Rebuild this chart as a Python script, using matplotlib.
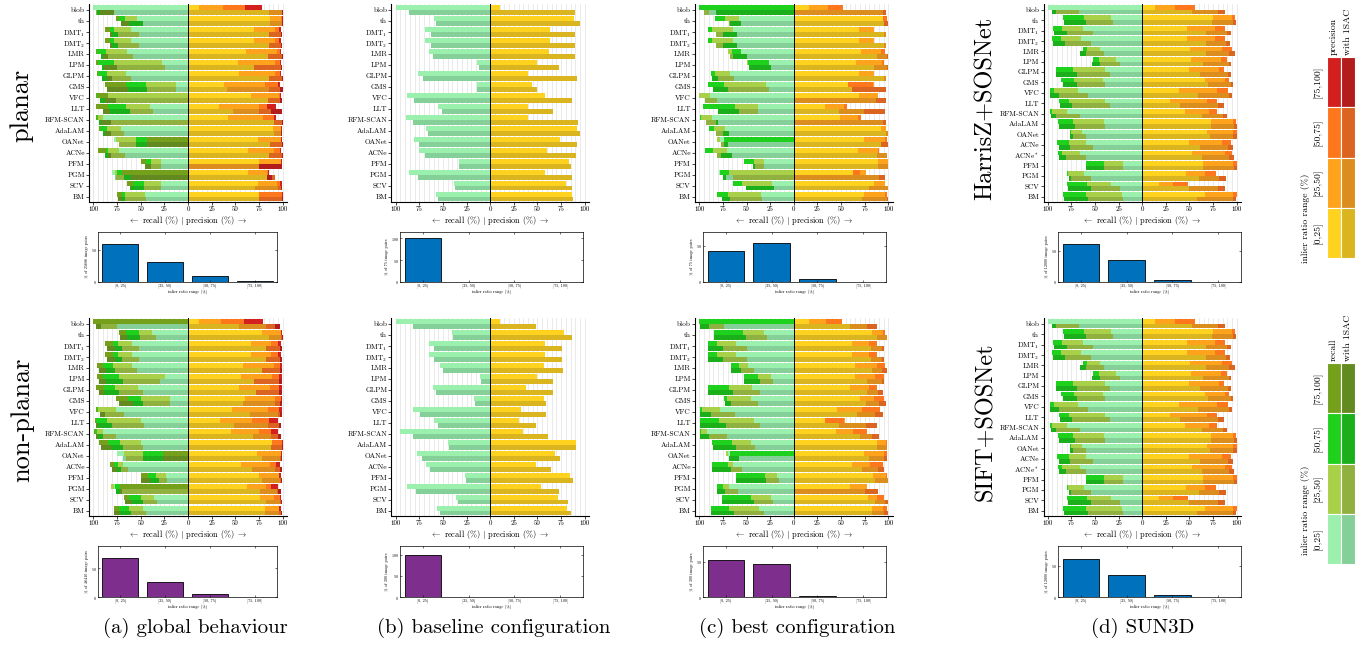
import matplotlib
matplotlib.use('Agg')
import matplotlib.pyplot as plt
import numpy as np
from matplotlib.patches import Rectangle
from matplotlib.ticker import MultipleLocator

plt.rcParams['font.family'] = ['cmr10', 'DejaVu Serif']
plt.rcParams['mathtext.fontset'] = 'cm'
plt.rcParams['axes.formatter.use_mathtext'] = True

# ---------------- data ----------------
methods = ['blob', 'th', 'DMT$_1$', 'DMT$_2$', 'LMR', 'LPM', 'GLPM', 'GMS', 'VFC', 'LLT',
           'RFM-SCAN', 'AdaLAM', 'OANet', 'ACNe', 'PFM', 'PGM', 'SCV', 'BM']
methods_sun = methods[:14] + ['ACNe$^*$'] + methods[14:]
ranges = ['[0,25]', '[25,50]', '[50,75]', '[75,100]']
hist_ranges = ['[0, 25)', '[25, 50)', '[50, 75)', '[75, 100]']

# (a) global behaviour, planar -- one [0,25],[25,50],[50,75],[75,100] entry per method
a_pl_rec_plain = [[100, 0, 0, 0], [54, 66, 73, 76], [60, 78, 82, 88], [60, 78, 82, 88],
                  [64, 87, 96, 97], [27, 78, 95, 97], [65, 86, 95, 96], [13, 44, 65, 88],
                  [84, 84, 97, 96], [40, 65, 84, 97], [90, 95, 96, 97], [71, 85, 93, 94],
                  [78, 76, 55, 43], [73, 84, 87, 95], [29, 39, 44, 50], [80, 77, 75, 70],
                  [29, 46, 58, 64], [45, 67, 70, 75]]
a_pl_rec_1sac = [[78, 97, 96, 93], [48, 62, 62, 71], [52, 74, 80, 82], [52, 74, 80, 82],
                 [58, 84, 92, 90], [24, 75, 91, 89], [60, 80, 91, 86], [13, 43, 63, 85],
                 [76, 76, 93, 88], [37, 61, 82, 90], [81, 81, 94, 92], [68, 81, 90, 88],
                 [73, 73, 55, 43], [66, 81, 88, 84], [28, 39, 45, 45], [77, 76, 68, 60],
                 [28, 46, 60, 61], [44, 66, 70, 74]]
a_pl_prec_plain = [[12, 37, 60, 78], [87, 98, 99, 100], [70, 92, 96, 98], [70, 92, 96, 98],
                   [61, 94, 97, 98], [53, 92, 97, 98], [54, 92, 97, 98], [38, 81, 95, 97],
                   [67, 96, 97, 98], [33, 75, 83, 93], [42, 79, 91, 93], [90, 98, 99, 99],
                   [74, 98, 99, 99], [63, 91, 97, 98], [75, 98, 99, 99], [63, 83, 84, 86],
                   [74, 94, 97, 99], [75, 99, 99, 100]]
a_pl_prec_1sac = [[85, 99, 100, 100], [87, 99, 100, 100], [85, 98, 98, 99], [85, 98, 98, 99],
                  [84, 99, 99, 100], [70, 98, 98, 99], [86, 99, 99, 100], [41, 85, 97, 100],
                  [84, 97, 97, 99], [47, 75, 88, 99], [91, 99, 99, 100], [91, 98, 99, 99],
                  [87, 99, 99, 100], [86, 99, 99, 100], [75, 75, 99, 99], [83, 92, 92, 89],
                  [71, 95, 98, 99], [75, 99, 99, 100]]

# (a) global behaviour, non-planar
a_np_rec_plain = [[0, 0, 0, 100], [38, 52, 65, 73], [59, 74, 79, 88], [59, 74, 79, 88],
                  [59, 79, 90, 96], [24, 73, 90, 96], [53, 77, 89, 97], [19, 50, 63, 76],
                  [76, 95, 97, 96], [50, 85, 97, 98], [90, 96, 98, 99], [50, 72, 84, 94],
                  [75, 68, 47, 26], [69, 74, 78, 82], [23, 34, 42, 50], [78, 81, 77, 72],
                  [36, 50, 62, 68], [47, 62, 73, 78]]
a_np_rec_1sac = [[75, 92, 97, 97], [34, 51, 64, 72], [52, 70, 77, 86], [52, 70, 77, 86],
                 [54, 77, 87, 94], [30, 69, 87, 94], [48, 73, 89, 94], [19, 47, 58, 73],
                 [68, 88, 93, 93], [46, 80, 95, 97], [76, 90, 95, 97], [48, 69, 81, 92],
                 [69, 65, 47, 26], [63, 71, 75, 80], [22, 31, 40, 50], [70, 70, 76, 72],
                 [33, 48, 59, 66], [44, 60, 72, 78]]
a_np_prec_plain = [[12, 35, 59, 79], [78, 98, 99, 99], [66, 88, 95, 98], [66, 88, 95, 98],
                   [58, 91, 97, 99], [56, 89, 96, 99], [54, 87, 96, 99], [60, 92, 98, 99],
                   [46, 84, 96, 99], [34, 68, 86, 95], [45, 75, 88, 95], [89, 99, 99, 100],
                   [73, 98, 99, 99], [56, 87, 93, 97], [75, 96, 98, 98], [62, 82, 88, 95],
                   [76, 91, 97, 98], [81, 96, 98, 98]]
a_np_prec_1sac = [[54, 82, 92, 97], [85, 98, 99, 100], [82, 97, 97, 99], [82, 97, 97, 99],
                  [78, 97, 97, 99], [70, 96, 96, 99], [72, 96, 96, 99], [58, 92, 97, 99],
                  [65, 95, 97, 99], [49, 84, 96, 98], [69, 88, 95, 98], [88, 99, 99, 100],
                  [78, 97, 98, 99], [68, 92, 97, 99], [78, 97, 98, 99], [76, 94, 95, 98],
                  [82, 97, 98, 99], [81, 96, 98, 99]]

# (b) baseline configuration: only the [0,25] range
b_pl_rec_plain = [100, 60, 69, 69, 65, 14, 76, 14, 88, 55, 89, 68, 81, 75, 33, 86, 38, 57]
b_pl_rec_1sac = [86, 57, 63, 63, 61, 12, 71, 14, 81, 51, 82, 66, 75, 69, 33, 76, 37, 55]
b_pl_prec_plain = [10, 89, 63, 63, 62, 50, 40, 44, 58, 40, 40, 92, 74, 60, 83, 58, 80, 86]
b_pl_prec_1sac = [90, 95, 90, 90, 90, 73, 92, 50, 87, 66, 93, 95, 92, 91, 85, 86, 87, 88]
b_np_rec_plain = [100, 41, 65, 65, 53, 11, 61, 17, 82, 60, 95, 45, 78, 68, 27, 88, 36, 56]
b_np_rec_1sac = [82, 39, 59, 59, 50, 10, 57, 16, 74, 55, 82, 44, 72, 64, 26, 79, 34, 53]
b_np_prec_plain = [10, 78, 58, 58, 57, 50, 38, 57, 33, 30, 35, 91, 69, 48, 84, 54, 72, 81]
b_np_prec_1sac = [48, 86, 76, 76, 77, 66, 66, 59, 59, 48, 61, 91, 74, 64, 88, 73, 82, 85]

# (c) best configuration, planar
c_pl_rec_plain = [[0, 0, 100, 0], [58, 73, 83, 0], [64, 86, 91, 0], [64, 86, 91, 0],
                  [56, 70, 65, 0], [26, 49, 48, 0], [67, 83, 88, 0], [29, 74, 91, 0],
                  [89, 100, 0, 0], [38, 62, 96, 0], [87, 98, 99, 0], [73, 84, 90, 0],
                  [78, 81, 74, 0], [71, 85, 94, 0], [32, 42, 53, 0], [79, 69, 78, 0],
                  [23, 55, 64, 0], [35, 70, 81, 0]]
c_pl_rec_1sac = [[90, 95, 82, 0], [56, 68, 67, 0], [60, 82, 75, 0], [60, 82, 75, 0],
                 [49, 67, 64, 0], [24, 47, 47, 0], [63, 80, 87, 0], [26, 70, 85, 0],
                 [81, 94, 0, 0], [38, 58, 80, 0], [80, 93, 82, 0], [69, 82, 75, 0],
                 [70, 77, 74, 0], [65, 81, 77, 0], [32, 41, 43, 0], [72, 64, 75, 0],
                 [21, 51, 51, 0], [34, 67, 76, 0]]
c_pl_prec_plain = [[16, 36, 52, 0], [94, 99, 99, 0], [69, 85, 0, 0], [69, 85, 0, 0],
                   [71, 92, 97, 0], [66, 93, 95, 0], [69, 85, 0, 0], [57, 85, 84, 0],
                   [69, 89, 0, 0], [33, 53, 56, 0], [49, 68, 71, 0], [92, 98, 0, 0],
                   [74, 97, 99, 0], [68, 89, 90, 0], [89, 100, 0, 0], [63, 76, 70, 0],
                   [85, 97, 0, 0], [74, 97, 99, 0]]
c_pl_prec_1sac = [[94, 94, 98, 0], [96, 100, 100, 0], [95, 98, 0, 0], [95, 98, 0, 0],
                  [88, 99, 100, 0], [85, 99, 100, 0], [95, 98, 0, 0], [62, 98, 98, 0],
                  [87, 87, 98, 0], [48, 74, 97, 0], [94, 94, 98, 0], [98, 100, 0, 0],
                  [92, 100, 100, 0], [88, 99, 0, 0], [89, 100, 0, 0], [90, 90, 97, 0],
                  [80, 100, 0, 0], [72, 99, 100, 0]]

# (c) best configuration, non-planar
c_np_rec_plain = [[0, 0, 100, 0], [32, 54, 84, 0], [61, 81, 91, 0], [61, 81, 91, 0],
                  [48, 58, 66, 0], [24, 38, 53, 0], [44, 69, 91, 0], [45, 71, 74, 0],
                  [78, 97, 99, 0], [42, 79, 99, 0], [92, 98, 99, 0], [45, 65, 86, 0],
                  [70, 72, 67, 0], [64, 70, 86, 0], [18, 30, 61, 0], [68, 75, 81, 0],
                  [24, 45, 76, 0], [37, 69, 88, 0]]
c_np_rec_1sac = [[74, 90, 99, 0], [28, 51, 84, 0], [49, 75, 91, 0], [49, 75, 91, 0],
                 [42, 56, 66, 0], [22, 36, 53, 0], [36, 64, 91, 0], [38, 66, 73, 0],
                 [62, 88, 99, 0], [36, 72, 99, 0], [71, 90, 99, 0], [41, 61, 85, 0],
                 [58, 69, 68, 0], [55, 66, 86, 0], [16, 29, 61, 0], [59, 73, 81, 0],
                 [22, 42, 76, 0], [32, 63, 88, 0]]
c_np_prec_plain = [[16, 34, 51, 0], [83, 94, 97, 0], [62, 80, 88, 0], [62, 80, 88, 0],
                   [65, 88, 97, 0], [65, 86, 95, 0], [60, 80, 88, 0], [70, 85, 96, 0],
                   [46, 72, 91, 0], [33, 54, 53, 0], [45, 63, 78, 0], [88, 98, 99, 0],
                   [74, 95, 99, 0], [62, 81, 94, 0], [84, 98, 99, 0], [60, 77, 78, 0],
                   [79, 88, 96, 0], [83, 94, 99, 0]]
c_np_prec_1sac = [[59, 78, 88, 0], [88, 99, 0, 0], [82, 93, 95, 0], [82, 93, 95, 0],
                  [83, 93, 99, 0], [78, 93, 96, 0], [77, 89, 94, 0], [76, 90, 98, 0],
                  [67, 86, 94, 0], [48, 76, 88, 0], [70, 83, 90, 0], [88, 99, 0, 0],
                  [80, 96, 99, 0], [72, 89, 95, 0], [86, 100, 0, 0], [75, 75, 89, 0],
                  [86, 97, 100, 0], [83, 96, 100, 0]]

# (d) SUN3D (both rows read the same at this resolution)
d_rec_plain = [[100, 0, 0, 0], [33, 62, 84, 0], [63, 85, 94, 0], [65, 86, 95, 0],
               [45, 58, 63, 0], [28, 46, 52, 0], [39, 73, 91, 0], [42, 72, 86, 0],
               [68, 93, 98, 0], [39, 78, 88, 0], [80, 95, 98, 0], [40, 73, 89, 0],
               [64, 75, 76, 0], [59, 78, 90, 0], [66, 85, 89, 0], [20, 41, 60, 0],
               [62, 79, 80, 0], [33, 58, 80, 0], [21, 60, 84, 0]]
d_rec_1sac = [[67, 91, 96, 0], [31, 60, 83, 0], [52, 80, 93, 0], [54, 82, 94, 0],
              [40, 60, 66, 0], [24, 45, 53, 0], [34, 69, 91, 0], [39, 69, 84, 0],
              [57, 88, 98, 0], [34, 74, 87, 0], [66, 91, 97, 0], [39, 71, 88, 0],
              [59, 73, 76, 0], [52, 76, 88, 0], [59, 81, 88, 0], [20, 40, 60, 0],
              [54, 75, 78, 0], [24, 54, 79, 0], [20, 57, 83, 0]]
d_prec_plain = [[14, 35, 56, 0], [75, 95, 98, 0], [47, 77, 88, 0], [47, 77, 88, 0],
                [51, 84, 95, 0], [52, 83, 90, 0], [49, 81, 87, 0], [66, 88, 92, 0],
                [39, 79, 91, 0], [29, 69, 79, 0], [45, 71, 79, 0], [73, 96, 99, 0],
                [69, 96, 100, 0], [50, 84, 94, 0], [53, 88, 95, 0], [64, 96, 100, 0],
                [46, 66, 78, 0], [18, 33, 48, 0], [66, 96, 100, 0]]
d_prec_1sac = [[53, 80, 88, 0], [74, 96, 99, 0], [67, 90, 94, 0], [67, 89, 93, 0],
               [67, 92, 98, 0], [64, 92, 94, 0], [61, 91, 94, 0], [70, 94, 96, 0],
               [59, 92, 95, 0], [40, 80, 87, 0], [63, 85, 90, 0], [73, 97, 100, 0],
               [72, 96, 100, 0], [61, 91, 96, 0], [63, 92, 97, 0], [64, 97, 100, 0],
               [60, 81, 89, 0], [49, 80, 88, 0], [58, 96, 99, 0]]

# histograms: % of image pairs per inlier ratio range
hist_a_pl = [58.5, 31.5, 8.5, 1.0]
hist_b_pl = [100, 0, 0, 0]
hist_c_pl = [43, 53.5, 3.5, 0]
hist_d_pl = [60.5, 35, 4, 0.5]
hist_a_np = [68.5, 26, 5, 0.5]
hist_b_np = [100, 0, 0, 0]
hist_c_np = [52, 46, 2, 0]
hist_d_np = [61, 35.5, 3.2, 0.3]

REC_PLAIN = ['#9cf0ae', '#a8d048', '#1dd11d', '#75a01c']
REC_1SAC = ['#85d098', '#90b040', '#1bb01b', '#638a20']
PREC_PLAIN = ['#ffd21f', '#ffa31c', '#ff771c', '#d41f1f']
PREC_1SAC = ['#dbb520', '#db8d1e', '#db6420', '#b31c1c']
BLUE, PURPLE = '#0072bd', '#7e2f8e'

W, H = 1368, 645
fig = plt.figure(figsize=(W / 100, H / 100), dpi=100)

ov = fig.add_axes([0, 0, 1, 1])
ov.set_xlim(0, W); ov.set_ylim(H, 0)
ov.axis('off')
ov.patch.set_alpha(0)


def px(x0, y0, x1, y1):
    return [x0 / W, 1 - y1 / H, (x1 - x0) / W, (y1 - y0) / H]


def bar_panel(rect, names, rp, rs, pp, ps):
    ax = fig.add_axes(rect)
    n = len(names)
    y = np.arange(n)
    for vals, sign, cols, off in [(rp, -1, REC_PLAIN, -0.225), (rs, -1, REC_1SAC, 0.225),
                                  (pp, 1, PREC_PLAIN, -0.225), (ps, 1, PREC_1SAC, 0.225)]:
        v = np.asarray(vals, float).reshape(n, -1)
        order = np.argsort(-v, axis=1, kind='stable')   # longest behind, shortest on top
        for j in range(v.shape[1]):
            k = order[:, j]
            w = v[y, k]
            keep = w > 0
            ax.barh(y[keep] + off, sign * w[keep], height=0.45,
                    color=[cols[c] for c in k[keep]], lw=0, zorder=2)
    ax.axvline(0, color='k', lw=0.7, zorder=3)
    ax.set_xlim(-104.5, 104.5)
    ax.set_ylim(n - 0.5, -0.55)
    ax.set_yticks(y)
    ax.set_yticklabels(names, fontsize=5.3)
    ticks = np.arange(-100, 101, 25)
    ax.set_xticks(ticks)
    ax.set_xticklabels([str(abs(t)) for t in ticks], fontsize=5)
    ax.set_xticks(np.arange(-100, 101, 5), minor=True)
    ax.grid(axis='x', which='both', color='#e2e2e2', lw=0.5)
    ax.set_axisbelow(True)
    ax.tick_params(which='minor', length=0)
    ax.tick_params(axis='both', length=2, width=0.5, pad=1)
    for s in ['top', 'right']:
        ax.spines[s].set_visible(False)
    for s in ['left', 'bottom']:
        ax.spines[s].set_linewidth(0.8)
    ax.set_xlabel(r'$\leftarrow$ recall (%) $|$ precision (%) $\rightarrow$', fontsize=6, labelpad=1.5)
    return ax


def hist_panel(rect, vals, color, ytop, ylabel):
    ax = fig.add_axes(rect)
    ax.bar(np.arange(4), vals, width=0.8, color=color, edgecolor='k', lw=0.6)
    ax.set_xlim(-0.5, 3.5)
    ax.set_ylim(0, ytop)
    ax.set_xticks(range(4))
    ax.set_xticklabels(hist_ranges, fontsize=3)
    ax.yaxis.set_major_locator(MultipleLocator(50))
    ax.tick_params(direction='in', top=True, right=True, length=1.5, width=0.4, labelsize=3, pad=1)
    ax.set_xlabel('inlier ratio range (%)', fontsize=3, labelpad=1)
    ax.set_ylabel(ylabel, fontsize=3, labelpad=1)
    for s in ax.spines.values():
        s.set_linewidth(0.5)
    return ax


bar_x = [(89, 287), (391.5, 589), (695, 892.5), (1043.5, 1241)]
hist_x = [(98, 277), (400, 583), (703, 886), (1058, 1241)]
bar_y = [(4, 202), (318, 516)]
hist_y = [(232, 282), (546, 597)]

bar_data = [
    [(methods, a_pl_rec_plain, a_pl_rec_1sac, a_pl_prec_plain, a_pl_prec_1sac),
     (methods, b_pl_rec_plain, b_pl_rec_1sac, b_pl_prec_plain, b_pl_prec_1sac),
     (methods, c_pl_rec_plain, c_pl_rec_1sac, c_pl_prec_plain, c_pl_prec_1sac),
     (methods_sun, d_rec_plain, d_rec_1sac, d_prec_plain, d_prec_1sac)],
    [(methods, a_np_rec_plain, a_np_rec_1sac, a_np_prec_plain, a_np_prec_1sac),
     (methods, b_np_rec_plain, b_np_rec_1sac, b_np_prec_plain, b_np_prec_1sac),
     (methods, c_np_rec_plain, c_np_rec_1sac, c_np_prec_plain, c_np_prec_1sac),
     (methods_sun, d_rec_plain, d_rec_1sac, d_prec_plain, d_prec_1sac)],
]
hist_data = [
    [(hist_a_pl, BLUE, 77, '% of 25686 image pairs'), (hist_b_pl, BLUE, 114, '% of 75 image pairs'),
     (hist_c_pl, BLUE, 69, '% of 75 image pairs'), (hist_d_pl, BLUE, 80, '% of 12000 image pairs')],
    [(hist_a_np, PURPLE, 89, '% of 46410 image pairs'), (hist_b_np, PURPLE, 120, '% of 300 image pairs'),
     (hist_c_np, PURPLE, 72, '% of 300 image pairs'), (hist_d_np, BLUE, 82, '% of 12000 image pairs')],
]

for r in range(2):
    for c in range(4):
        bar_panel(px(bar_x[c][0], bar_y[r][0], bar_x[c][1], bar_y[r][1]), *bar_data[r][c])
        hist_panel(px(hist_x[c][0], hist_y[r][0], hist_x[c][1], hist_y[r][1]), *hist_data[r][c])

# row labels and captions
for x, yc, t, fs in [(22, 105, 'planar', 19), (22, 420, 'non-planar', 19),
                     (985, 108, 'HarrisZ+SOSNet', 17.5), (985, 422, 'SIFT+SOSNet', 17.5)]:
    ov.text(x, yc, t, rotation=90, ha='center', va='center', fontsize=fs)
for x, t in [(195, '(a) global behaviour'), (494, '(b) baseline configuration'),
             (797, '(c) best configuration'), (1143, '(d) SUN3D')]:
    ov.text(x, 628, t, ha='center', va='center', fontsize=15)

# legends
col_x = [(1326.5, 14), (1340.5, 14)]
for top_y, cols, head, lab_y in [(57, (PREC_PLAIN, PREC_1SAC), 'precision', 218),
                                 (363, (REC_PLAIN, REC_1SAC), 'recall', 510)]:
    for ci, (cx, cw) in enumerate(col_x):
        for ri in range(4):
            k = 3 - ri
            ov.add_patch(Rectangle((cx, top_y + ri * 50.3), cw, 50.3, facecolor=cols[ci][k],
                                   edgecolor='white', lw=0.8))
    ov.text(1333.5, top_y - 2, head, rotation=90, ha='center', va='bottom', fontsize=7)
    ov.text(1348, top_y - 2, 'with 1SAC', rotation=90, ha='center', va='bottom', fontsize=7)
    for ri in range(4):
        ov.text(1318, top_y + ri * 50.3 + 25, ranges[3 - ri], rotation=90, ha='center',
                va='center', fontsize=7)
    ov.text(1305, lab_y, 'inlier ratio range (%)', rotation=90, ha='center', va='center', fontsize=7)

fig.savefig('out.png', dpi=100)
